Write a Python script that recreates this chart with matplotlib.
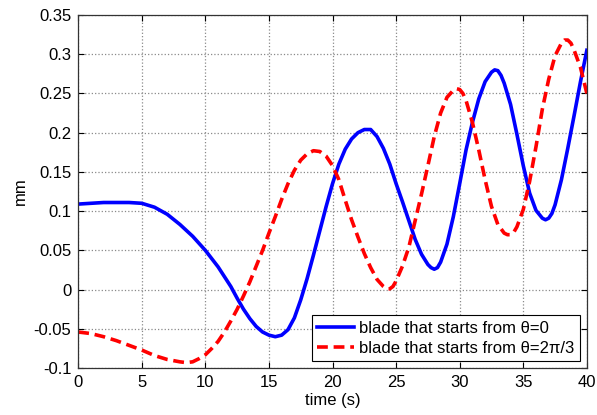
import numpy as np
import matplotlib
matplotlib.use('Agg')
import matplotlib.pyplot as plt

# valores (tempo em s, deslocamento em mm)
t_blue = [0, 1, 2, 3, 4, 5, 6, 7, 8, 9, 10, 11, 12, 12.5, 13, 13.5, 14, 14.5,
          15, 15.5, 16, 16.5, 17, 17.5, 18, 18.5, 19, 19.5, 20, 20.5, 21, 21.5,
          22, 22.5, 23, 23.5, 24, 24.5, 25, 25.5, 26, 26.5, 27, 27.5, 27.75, 28,
          28.25, 28.5, 29, 29.5, 30, 30.5, 31, 31.5, 32, 32.5, 32.75, 33, 33.25,
          33.5, 34, 34.5, 35, 35.5, 36, 36.5, 36.75, 37, 37.25, 37.5, 38, 38.5,
          39, 39.5, 40]
y_blue = [0.109, 0.110, 0.111, 0.111, 0.111, 0.110, 0.105, 0.096, 0.083, 0.068,
          0.050, 0.029, 0.004, -0.011, -0.025, -0.037, -0.047, -0.054,
          -0.058, -0.060, -0.058, -0.051, -0.036, -0.013, 0.014, 0.044, 0.075,
          0.106, 0.135, 0.160, 0.179, 0.192, 0.200, 0.204, 0.204, 0.195, 0.180,
          0.160, 0.135, 0.112, 0.088, 0.064, 0.045, 0.032, 0.028, 0.026, 0.028,
          0.035, 0.058, 0.093, 0.135, 0.178, 0.213, 0.243, 0.265, 0.277, 0.280,
          0.279, 0.273, 0.263, 0.236, 0.198, 0.158, 0.123, 0.101, 0.091, 0.089,
          0.091, 0.097, 0.108, 0.140, 0.180, 0.222, 0.265, 0.305]

t_red = [0, 1, 2, 3, 4, 5, 6, 7, 8, 8.5, 9, 9.5, 10, 10.5, 11, 11.5, 12, 12.5,
         13, 13.5, 14, 14.5, 15, 15.5, 16, 16.5, 17, 17.5, 18, 18.5, 19, 19.5,
         20, 20.5, 21, 21.5, 22, 22.5, 23, 23.5, 24, 24.25, 24.5, 24.75, 25,
         25.5, 26, 26.5, 27, 27.5, 28, 28.5, 29, 29.5, 29.75, 30, 30.25, 30.5,
         31, 31.5, 32, 32.5, 33, 33.5, 33.75, 34, 34.25, 34.5, 35, 35.5, 36,
         36.5, 37, 37.5, 38, 38.25, 38.5, 38.75, 39, 39.5, 40]
y_red = [-0.054, -0.056, -0.060, -0.065, -0.071, -0.077, -0.084, -0.089, -0.092,
         -0.093, -0.092, -0.088, -0.083, -0.075, -0.066, -0.054, -0.040, -0.025,
         -0.008, 0.010, 0.030, 0.050, 0.072, 0.093, 0.115, 0.135, 0.152, 0.165,
         0.173, 0.177, 0.176, 0.170, 0.158, 0.140, 0.114, 0.089, 0.067, 0.046,
         0.028, 0.013, 0.004, 0.001, 0.001, 0.004, 0.011, 0.030, 0.054, 0.088,
         0.122, 0.158, 0.195, 0.225, 0.245, 0.254, 0.256, 0.255, 0.250, 0.241,
         0.213, 0.178, 0.140, 0.106, 0.083, 0.072, 0.070, 0.070, 0.073, 0.080,
         0.102, 0.138, 0.182, 0.230, 0.268, 0.298, 0.314, 0.318, 0.318, 0.314,
         0.305, 0.283, 0.250]

x_ticks = [0, 5, 10, 15, 20, 25, 30, 35, 40]
y_ticks = [-0.1, -0.05, 0, 0.05, 0.1, 0.15, 0.2, 0.25, 0.3, 0.35]
y_tick_labels = ['-0.1', '-0.05', '0', '0.05', '0.1', '0.15', '0.2', '0.25', '0.3', '0.35']

plt.rcParams['font.family'] = ['Liberation Sans', 'DejaVu Sans']
plt.rcParams['font.size'] = 12

fig = plt.figure(figsize=(5.97, 4.15), dpi=100)
ax = fig.add_axes([0.131, 0.113, 0.852, 0.851])

ax.plot(t_blue, y_blue, color='#0000FF', linewidth=2.6,
        label='blade that starts from θ=0')
ax.plot(t_red, y_red, color='#FF0000', linewidth=2.6, linestyle=(0, (3, 1.6)),
        label='blade that starts from θ=2π/3')

ax.set_xlim(0, 40)
ax.set_ylim(-0.1, 0.35)
ax.set_xticks(x_ticks)
ax.set_yticks(y_ticks)
ax.set_yticklabels(y_tick_labels)
ax.tick_params(direction='in', top=True, right=True, length=4, width=0.8, pad=5)
ax.grid(True, linestyle=':', color='#8a8a8a', linewidth=0.9)

for s in ax.spines.values():
    s.set_linewidth(0.9)
    s.set_color('#333333')

ax.set_xlabel('time (s)', labelpad=2)
ax.set_ylabel('mm', labelpad=4)

leg = ax.legend(loc='lower right', fancybox=False, framealpha=1, edgecolor='black',
                borderaxespad=0.4, handlelength=2.2, handletextpad=0.3,
                borderpad=0.35, labelspacing=0.3, fontsize=12)
leg.get_frame().set_linewidth(0.8)

fig.savefig('out.png', dpi=100)
